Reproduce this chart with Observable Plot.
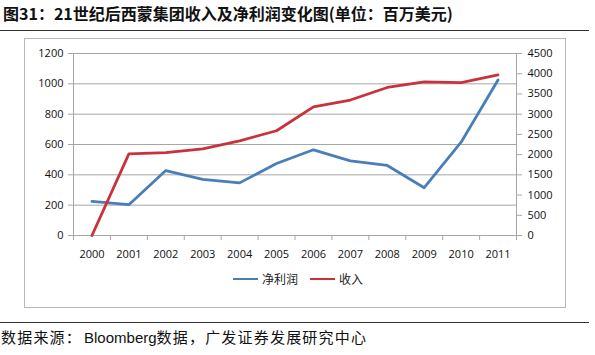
<!DOCTYPE html>
<html><head><meta charset="utf-8">
<script src="https://cdn.jsdelivr.net/npm/d3@7"></script>
<script src="https://cdn.jsdelivr.net/npm/@observablehq/plot@0.6"></script>
<style>
body{margin:0;background:#fff;font-family:"Noto Sans CJK SC","Open Sans",sans-serif;}
#wrap{position:relative;width:595px;height:355px;overflow:hidden;}
#title{position:absolute;left:3px;top:1px;font-size:16px;font-weight:bold;color:#111;white-space:nowrap;}
.rule{position:absolute;left:0;width:589px;height:0;border-top:1.5px solid #333;}
#box{position:absolute;box-sizing:border-box;left:24px;top:38px;width:542px;height:270px;border:1px solid #b8b8b8;}
#chart{position:absolute;left:0;top:40px;}
#legend{position:absolute;top:270px;left:233px;font-size:12px;color:#222;display:flex;align-items:center;white-space:nowrap;}
#legend .sw{display:inline-block;width:25px;height:0;border-top:2.5px solid;margin-right:4px;}
#foot{position:absolute;left:1px;top:326px;font-size:15px;color:#111;white-space:nowrap;letter-spacing:1.2px;}
#foot .en{font-family:"Liberation Sans",Arial,sans-serif;letter-spacing:0;margin-left:2px;}
</style></head>
<body><div id="wrap">
<div id="title">图31：21世纪后西蒙集团收入及净利润变化图(单位：百万美元)</div>
<div class="rule" style="top:30px"></div>
<div id="box"></div>
<div id="chart"></div>
<div id="legend"></div>
<div class="rule" style="top:322px"></div>
<div id="foot">数据来源：<span class="en">Bloomberg</span>数据，广发证券发展研究中心</div>
</div>
<script>
const years = [2000,2001,2002,2003,2004,2005,2006,2007,2008,2009,2010,2011];
const netProfit = [225,203,428,370,347,475,565,492,462,315,615,1025];
const revenue = [0,2020,2050,2140,2340,2590,3180,3350,3660,3800,3780,3970];
const leftTicks = [0,200,400,600,800,1000,1200];
const rightTicks = [0,500,1000,1500,2000,2500,3000,3500,4000,4500];
const seriesNames = ["净利润","收入"];
const colors = ["#4a7ebb","#c9323b"];

const k = 1200/4500;
const profitData = years.map((y,i)=>({year:y, v:netProfit[i]}));
const revData = years.map((y,i)=>({year:y, v:revenue[i]*k}));
const bounds = years.map(y=>y-0.5).concat([years[years.length-1]+0.5]);
const grid = "#a6a6a6";
const font = "'Open Sans', sans-serif";

const chart = Plot.plot({
  width:595, height:230,
  marginLeft:73, marginRight:79, marginTop:13, marginBottom:35,
  style:{fontFamily:font, fontSize:"11px", color:"#111", background:"transparent"},
  x:{type:"linear", domain:[1999.5,2011.5]},
  y:{domain:[0,1200]},
  marks:[
    Plot.ruleY(leftTicks,{stroke:grid, strokeWidth:1}),
    Plot.ruleX([1999.5,2011.5],{stroke:grid, strokeWidth:1}),
    Plot.axisY(leftTicks,{anchor:"left", tickSize:5, tickPadding:5, stroke:grid, label:null, tickFormat:d=>String(d)}),
    Plot.axisY(rightTicks.map(v=>v*k),{anchor:"right", tickSize:5, tickPadding:6, stroke:grid, label:null, tickFormat:d=>String(Math.round(d/k))}),
    Plot.axisX(bounds,{anchor:"bottom", tickSize:5, stroke:grid, tickFormat:()=>"", label:null}),
    Plot.axisX(years,{anchor:"bottom", tickSize:0, tickPadding:15, tickFormat:d=>String(d), label:null}),
    Plot.line(profitData,{x:"year", y:"v", stroke:colors[0], strokeWidth:2.8}),
    Plot.line(revData,{x:"year", y:"v", stroke:colors[1], strokeWidth:2.8})
  ]
});
document.getElementById("chart").appendChild(chart);

const lg = document.getElementById("legend");
seriesNames.forEach((n,i)=>{
  const s=document.createElement("span"); s.className="sw"; s.style.borderColor=colors[i];
  const t=document.createElement("span"); t.textContent=n; t.style.marginRight = i===0?"12px":"0";
  lg.appendChild(s); lg.appendChild(t);
});
</script>
</body></html>
